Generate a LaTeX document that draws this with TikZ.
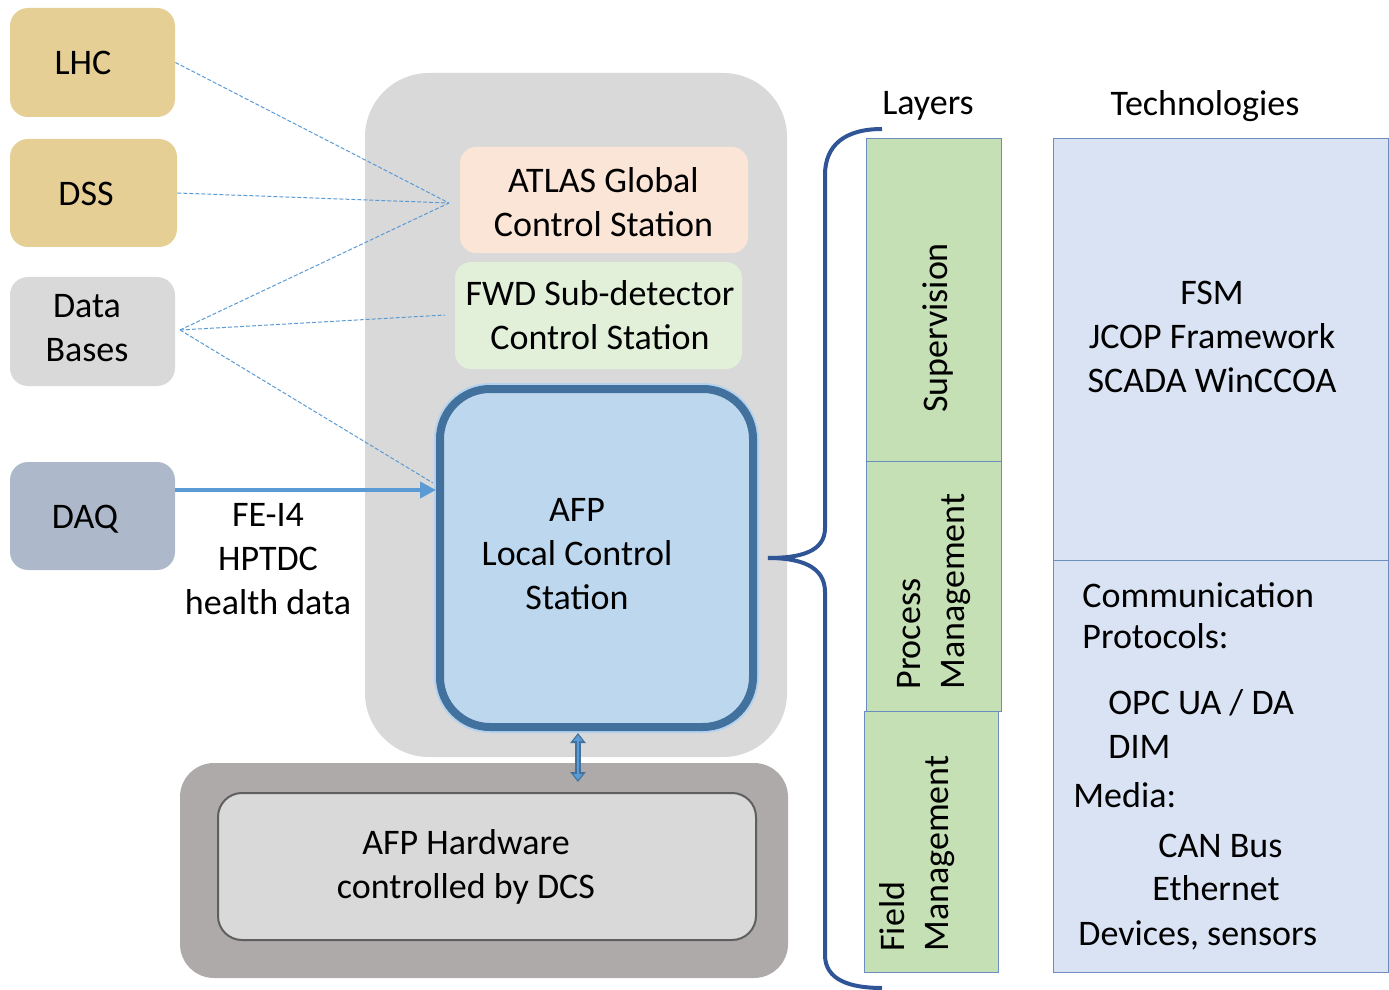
\documentclass[tikz,border=0pt]{standalone}
\usepackage{fontspec}
\setmainfont{Carlito}
\usetikzlibrary{arrows.meta}
\definecolor{tanbox}{HTML}{E5CF95}
\definecolor{lgray}{HTML}{D9D9D9}
\definecolor{daqc}{HTML}{ADB9CA}
\definecolor{atlasc}{HTML}{FBE5D6}
\definecolor{fwdc}{HTML}{E2F0D9}
\definecolor{lcsfill}{HTML}{BDD7EE}
\definecolor{lcsline}{HTML}{41719C}
\definecolor{lcshalo}{HTML}{B4D2EE}
\definecolor{hwout}{HTML}{AEAAAA}
\definecolor{hwline}{HTML}{5F5F5F}
\definecolor{greenc}{HTML}{C5E0B4}
\definecolor{techc}{HTML}{DAE3F3}
\definecolor{rectline}{HTML}{6C8EBF}
\definecolor{dashc}{HTML}{5B9BD5}
\definecolor{bracec}{HTML}{2F5597}
\begin{document}
\begin{tikzpicture}[x=0.5pt,y=-0.5pt,
  every node/.style={font=\fontsize{18}{22}\selectfont, inner sep=0pt, align=center},
  srcbox/.style={rounded corners=9pt, fill=#1},
  panel/.style={draw=rectline, line width=0.5pt, fill=#1},
  dashlink/.style={draw=dashc, line width=0.5pt, dash pattern=on 2pt off 1pt},
  datalink/.style={draw=dashc, line width=2pt, -{Triangle[length=8pt,width=8pt]}},
  dblouter/.style={draw=lcsline, line width=3.2pt, {Triangle[length=5pt,width=7.5pt]}-{Triangle[length=5pt,width=7.5pt]}},
  dblinner/.style={draw=dashc, line width=1.4pt, shorten <=1pt, shorten >=1pt, {Triangle[length=3pt,width=4.5pt]}-{Triangle[length=3pt,width=4.5pt]}},
  bracepath/.style={draw=bracec, line width=2pt}
]
\useasboundingbox (0,0) rectangle (1389,990);

% left sources
\node[srcbox=tanbox, minimum width=82.5pt, minimum height=54.5pt] (lhc) at (92.5,62.5) {};
\node[srcbox=tanbox, minimum width=83.5pt, minimum height=54pt] (dss) at (93.5,193) {};
\node[srcbox=lgray, minimum width=82.5pt, minimum height=54.5pt] (db) at (92.5,331.5) {};
\node[srcbox=daqc, minimum width=82.5pt, minimum height=54pt] (daq) at (92.5,516) {};
\node (lhct) at (83,63) {LHC};
\node (dsst) at (86,194) {DSS};
\node (dbt) at (87,328) {Data\\Bases};
\node (daqt) at (85,519) {DAQ};

% big gray panel
\node[rounded corners=32pt, fill=lgray, minimum width=211pt, minimum height=342pt] (dcs) at (576,415) {};
\node[rounded corners=8pt, fill=atlasc, minimum width=144pt, minimum height=53pt] (atlas) at (604,200) {};
\node (atlast) at (603.5,202) {ATLAS Global\\Control Station};
\node[rounded corners=8pt, fill=fwdc, minimum width=143.5pt, minimum height=53.5pt] (fwd) at (598.5,315.5) {};
\node (fwdt) at (600,315) {FWD Sub-detector\\Control Station};
\node[rounded corners=25pt, draw=lcshalo, line width=6pt, minimum width=156.5pt, minimum height=169pt] (lcsh) at (596.5,558) {};
\node[rounded corners=25pt, draw=lcsline, line width=4pt, fill=lcsfill, minimum width=156.5pt, minimum height=169pt] (lcs) at (596.5,558) {};
\node (lcst) at (577,554) {AFP\\Local Control\\Station};

% hardware
\node[rounded corners=17pt, fill=hwout, minimum width=304pt, minimum height=107.5pt] (hwo) at (484,870.5) {};
\node[rounded corners=12pt, fill=lgray, draw=hwline, line width=1pt, minimum width=269pt, minimum height=73.5pt] (hw) at (487,866.5) {};
\node (hwt) at (466,867) {AFP Hardware\\controlled by DCS};

% connectors
\coordinate (conv) at (449,203);
\coordinate (fwdend) at (445,315);
\coordinate (lcsend) at (433,483);
\coordinate (dbp) at (180,330);
\draw[dashlink] (lhc.east) -- (conv);
\draw[dashlink] (dss.east) -- (conv);
\draw[dashlink] (dbp) -- (conv);
\draw[dashlink] (dbp) -- (fwdend);
\draw[dashlink] (dbp) -- (lcsend);
\draw[datalink] (daq.east |- 0,490) -- (lcs.west |- 0,490);
\node (datalbl) at (268,559) {FE-I4\\HPTDC\\health data};
\coordinate (a1) at (578,733);
\coordinate (a2) at (578,782);
\draw[dblouter] (a1) -- (a2);
\draw[dblinner] (a1) -- (a2);

% headers
\node (layers) at (928,106) {Layers};
\node (techs) at (1205,106) {Technologies};

% brace
\coordinate (tip) at (768,558);
\draw[bracepath] (882,129) .. controls (845,129) and (825,145) .. (825,175) -- (825,528)
  .. controls (825,552) and (800,558) .. (tip)
  .. controls (800,558) and (825,566) .. (825,592) -- (825,955)
  .. controls (825,980) and (850,988) .. (882,988);

% layers
\node[panel=greenc, minimum width=67.5pt, minimum height=161pt] (sup) at (933.5,300) {};
\node[panel=greenc, minimum width=67.5pt, minimum height=125pt] (proc) at (933.5,586) {};
\node[panel=greenc, minimum width=67pt, minimum height=130.5pt] (field) at (931,841.5) {};
\node[rotate=90] (suptxt) at (938,328) {Supervision};
\node[rotate=90, anchor=west, align=left] (proctxt) at (934,690) {Process\\Management};
\node[rotate=90, anchor=west, align=left] (fieldtxt) at (917,952) {Field\\Management};

% technologies
\node[panel=techc, minimum width=167.5pt, minimum height=210.5pt] (techtop) at (1220.5,349.5) {};
\node[panel=techc, minimum width=167.5pt, minimum height=206pt] (techbot) at (1220.5,766) {};
\node (fsm) at (1212,337) {FSM\\JCOP Framework\\SCADA WinCCOA};
\node[anchor=base west] (t1) at (1082,607) {Communication};
\node[anchor=base west] (t2) at (1082,648) {Protocols:};
\node[anchor=base west] (t3) at (1108,714) {OPC UA / DA};
\node[anchor=base west] (t4) at (1108,758) {DIM};
\node[anchor=base west] (t5) at (1073,807) {Media:};
\node[anchor=base west] (t6) at (1158,857) {CAN Bus};
\node[anchor=base west] (t7) at (1152,900) {Ethernet};
\node[anchor=base west] (t8) at (1078,945) {Devices, sensors};
\end{tikzpicture}
\end{document}
